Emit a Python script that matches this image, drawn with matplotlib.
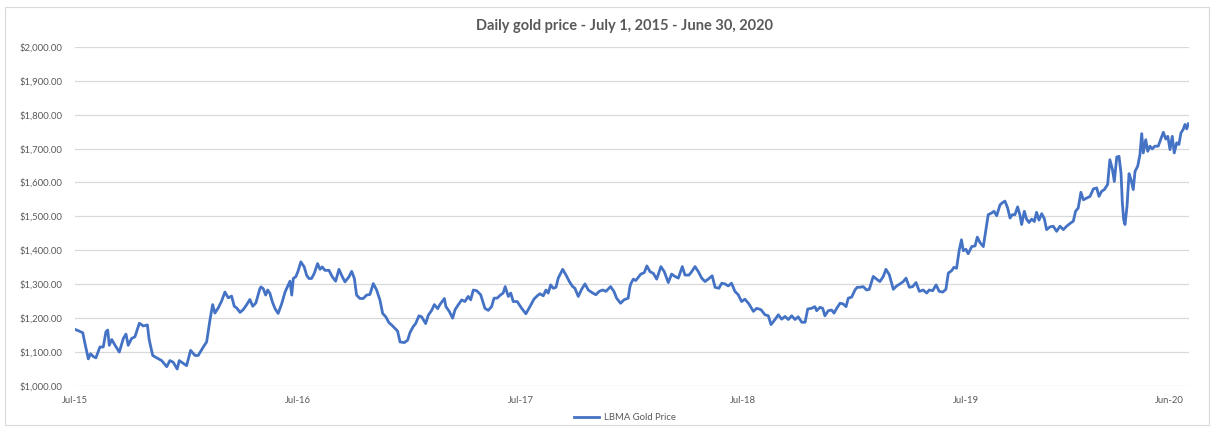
import matplotlib.pyplot as plt
from matplotlib.patches import Rectangle

plt.rcParams['font.family'] = ['Lato', 'DejaVu Sans']

# decimal year and LBMA price
t = [2015.500, 2015.515, 2015.535, 2015.545, 2015.560, 2015.570, 2015.582, 2015.594,
     2015.612, 2015.627, 2015.639, 2015.647, 2015.654, 2015.665, 2015.680, 2015.699,
     2015.717, 2015.729, 2015.739, 2015.754, 2015.769, 2015.789, 2015.807, 2015.825,
     2015.833, 2015.849, 2015.867, 2015.889, 2015.912, 2015.926, 2015.941, 2015.959,
     2015.968, 2015.986, 2016.001, 2016.019, 2016.039, 2016.053, 2016.076, 2016.091,
     2016.106, 2016.118, 2016.128, 2016.143, 2016.158, 2016.173, 2016.188, 2016.203,
     2016.215, 2016.226, 2016.241, 2016.255, 2016.271, 2016.285, 2016.298, 2016.312,
     2016.330,
     2016.335, 2016.345, 2016.356, 2016.365, 2016.375, 2016.386, 2016.398, 2016.412,
     2016.428, 2016.443, 2016.457, 2016.465, 2016.473, 2016.480, 2016.491, 2016.500,
     2016.514, 2016.529, 2016.540, 2016.550, 2016.562, 2016.574, 2016.589, 2016.600,
     2016.610, 2016.622, 2016.640, 2016.655, 2016.670, 2016.685, 2016.700, 2016.712,
     2016.730, 2016.742, 2016.754, 2016.764, 2016.779, 2016.794, 2016.809, 2016.824,
     2016.839, 2016.854, 2016.869, 2016.881, 2016.895, 2016.909, 2016.921, 2016.933,
     2016.948, 2016.959, 2016.978, 2016.993, 2017.004, 2017.018, 2017.029, 2017.044,
     2017.056, 2017.074, 2017.086, 2017.101, 2017.113, 2017.128, 2017.138, 2017.158,
     2017.165, 2017.180, 2017.195, 2017.206, 2017.220, 2017.236, 2017.250, 2017.265,
     2017.276, 2017.288, 2017.303, 2017.321, 2017.340, 2017.355, 2017.370, 2017.381,
     2017.395, 2017.411, 2017.422, 2017.431, 2017.445, 2017.456, 2017.467, 2017.485,
     2017.505, 2017.524, 2017.542, 2017.560, 2017.575, 2017.587, 2017.602, 2017.614,
     2017.624, 2017.635, 2017.647, 2017.659, 2017.669, 2017.680, 2017.689, 2017.704,
     2017.719, 2017.734, 2017.744, 2017.759, 2017.774, 2017.789, 2017.804, 2017.824,
     2017.838, 2017.853, 2017.869, 2017.883, 2017.904, 2017.919, 2017.931, 2017.949,
     2017.964, 2017.983, 2017.991,
     2017.996, 2018.006, 2018.017, 2018.028, 2018.040, 2018.055, 2018.067, 2018.081,
     2018.096, 2018.111, 2018.130, 2018.145, 2018.163, 2018.178, 2018.193, 2018.208,
     2018.226, 2018.238, 2018.256, 2018.268, 2018.283, 2018.298, 2018.313, 2018.328,
     2018.342, 2018.360, 2018.373, 2018.390, 2018.403, 2018.417, 2018.432, 2018.447,
     2018.462, 2018.477, 2018.492, 2018.507, 2018.525, 2018.545, 2018.560, 2018.579,
     2018.597, 2018.612, 2018.624, 2018.642, 2018.657, 2018.672, 2018.687, 2018.702,
     2018.717, 2018.732, 2018.746, 2018.762, 2018.777, 2018.789, 2018.806, 2018.821,
     2018.829, 2018.844, 2018.856, 2018.866, 2018.881, 2018.896, 2018.907, 2018.919,
     2018.934, 2018.948, 2018.961, 2018.971, 2018.986, 2019.001, 2019.011, 2019.023,
     2019.038, 2019.053, 2019.065, 2019.083, 2019.098, 2019.113, 2019.128, 2019.140,
     2019.155, 2019.173, 2019.188, 2019.203, 2019.218, 2019.230, 2019.245, 2019.260,
     2019.275, 2019.290, 2019.307, 2019.323, 2019.334, 2019.350, 2019.365, 2019.379,
     2019.395, 2019.409, 2019.420, 2019.435, 2019.445, 2019.457, 2019.469, 2019.479,
     2019.487, 2019.499, 2019.509, 2019.525, 2019.540, 2019.550, 2019.562, 2019.577,
     2019.589, 2019.599, 2019.614, 2019.625, 2019.637, 2019.652,
     2019.662, 2019.674, 2019.686, 2019.697, 2019.707, 2019.719, 2019.731, 2019.741,
     2019.749, 2019.761, 2019.771, 2019.782, 2019.794, 2019.806, 2019.816, 2019.827,
     2019.839, 2019.851, 2019.861, 2019.876, 2019.891, 2019.906, 2019.921, 2019.936,
     2019.951, 2019.966, 2019.981, 2019.991, 2020.003, 2020.015, 2020.026, 2020.041,
     2020.056, 2020.071, 2020.086, 2020.096, 2020.108, 2020.120, 2020.135, 2020.145,
     2020.156, 2020.165, 2020.176, 2020.186, 2020.195, 2020.201, 2020.207, 2020.213,
     2020.222, 2020.231, 2020.240, 2020.250, 2020.258, 2020.270, 2020.280, 2020.288,
     2020.295, 2020.306, 2020.315, 2020.325, 2020.335, 2020.347, 2020.362, 2020.378,
     2020.385, 2020.396, 2020.405, 2020.415, 2020.425, 2020.434, 2020.445, 2020.455,
     2020.464, 2020.474, 2020.482, 2020.490, 2020.497]

price = [1167, 1163, 1157, 1125, 1080, 1095, 1087, 1083,
         1115, 1115, 1160, 1165, 1120, 1137, 1120, 1100,
         1140, 1153, 1120, 1140, 1145, 1185, 1177, 1180,
         1137, 1090, 1083, 1075, 1057, 1075, 1070, 1050,
         1075, 1067, 1060, 1105, 1090, 1090, 1115, 1130,
         1195, 1240, 1215, 1230, 1250, 1277, 1260, 1265,
         1235, 1230, 1217, 1225, 1240, 1255, 1235, 1245,
         1287,
         1292, 1287, 1268, 1283, 1273, 1248, 1228, 1214,
         1243, 1277, 1297, 1309, 1268, 1317, 1322, 1336,
         1366, 1351, 1326, 1317, 1317, 1332, 1361, 1344,
         1351, 1341, 1341, 1322, 1309, 1344, 1322, 1307,
         1322, 1338, 1317, 1268, 1258, 1258, 1268, 1270,
         1302, 1283, 1253, 1214, 1204, 1187, 1180, 1172,
         1162, 1130, 1128, 1135, 1158, 1175, 1184, 1207,
         1204, 1184, 1209, 1223, 1240, 1228, 1240, 1258,
         1234, 1220, 1200, 1225, 1239, 1254, 1249, 1264,
         1254, 1283, 1281, 1269, 1229, 1223, 1234, 1259,
         1259, 1269, 1274, 1293, 1264, 1274, 1249, 1249,
         1229, 1213, 1234, 1256, 1266, 1272, 1266, 1283,
         1274, 1298, 1288, 1291, 1318, 1332, 1344, 1327,
         1308, 1293, 1288, 1264, 1285, 1301, 1283, 1274,
         1269, 1279, 1283, 1279, 1293, 1279, 1259, 1244,
         1254, 1259, 1293,
         1303, 1315, 1311, 1320, 1330, 1334, 1354, 1337,
         1332, 1315, 1352, 1337, 1305, 1330, 1323, 1318,
         1352, 1327, 1327, 1337, 1352, 1337, 1318, 1308,
         1315, 1325, 1291, 1288, 1303, 1301, 1295, 1303,
         1279, 1269, 1249, 1256, 1242, 1220, 1229, 1225,
         1210, 1207, 1181, 1196, 1210, 1197, 1205, 1196,
         1207, 1196, 1204, 1188, 1188, 1227, 1229, 1234,
         1222, 1232, 1229, 1207, 1222, 1224, 1215, 1229,
         1244, 1242, 1234, 1259, 1262, 1283, 1291, 1291,
         1293, 1283, 1285, 1323, 1315, 1308, 1323, 1344,
         1328, 1285, 1295, 1301, 1308, 1318, 1291, 1293,
         1305, 1279, 1283, 1274, 1283, 1281, 1298, 1279,
         1277, 1285, 1333, 1340, 1350, 1347, 1401, 1431,
         1399, 1403, 1390, 1411, 1413, 1439, 1423, 1411,
         1462, 1505, 1510, 1515, 1502, 1534,
         1540, 1545, 1525, 1495, 1505, 1505, 1528, 1505,
         1476, 1515, 1492, 1482, 1492, 1485, 1512, 1489,
         1508, 1493, 1461, 1469, 1471, 1456, 1471, 1461,
         1471, 1479, 1486, 1515, 1525, 1571, 1549, 1554,
         1559, 1581, 1584, 1559, 1574, 1579, 1594, 1667,
         1640, 1603, 1675, 1677, 1628, 1540, 1490, 1476,
         1530, 1626, 1608, 1579, 1633, 1648, 1682, 1744,
         1687, 1726, 1692, 1707, 1699, 1707, 1707, 1736,
         1748, 1728, 1736, 1697, 1736, 1687, 1717, 1712,
         1746, 1756, 1771, 1758, 1773]

tick_pos = [2015.5, 2016.5, 2017.5, 2018.5, 2019.5, 2020.41]
tick_labels = ["Jul-15", "Jul-16", "Jul-17", "Jul-18", "Jul-19", "Jun-20"]
yticks = list(range(1000, 2001, 100))

gray = "#595959"

fig = plt.figure(figsize=(12.11, 4.29), dpi=100)
fig.patches.append(Rectangle((0.004, 0.009), 0.994, 0.975, transform=fig.transFigure,
                             fill=False, edgecolor="#D9D9D9", linewidth=0.8))
ax = fig.add_axes([0.0619, 0.1002, 0.9199, 0.7908])

ax.plot(t, price, color="#4472C4", linewidth=2.0, label="LBMA Gold Price")

ax.set_xlim(2015.5, 2020.5)
ax.set_ylim(1000, 2000)
ax.set_yticks(yticks)
ax.set_yticklabels([f"${v:,.2f}" for v in yticks])
ax.set_xticks(tick_pos)
ax.set_xticklabels(tick_labels)
ax.grid(axis="y", color="#D9D9D9", linewidth=0.9)
ax.set_axisbelow(True)
for s in ax.spines.values():
    s.set_visible(False)
ax.tick_params(length=0, labelsize=6.8, colors=gray, pad=9)
ax.tick_params(axis="x", pad=7)

fig.text(0.516, 0.939, "Daily gold price - July 1, 2015 - June 30, 2020",
         ha="center", va="center", fontsize=10.5, fontweight="bold", color=gray)

leg = ax.legend(loc="center", bbox_to_anchor=(0.516, 0.027), bbox_transform=fig.transFigure,
                frameon=False, fontsize=6.8, handlelength=2.6, handletextpad=0.5)
for txt in leg.get_texts():
    txt.set_color(gray)

fig.savefig("out.png", dpi=100)
